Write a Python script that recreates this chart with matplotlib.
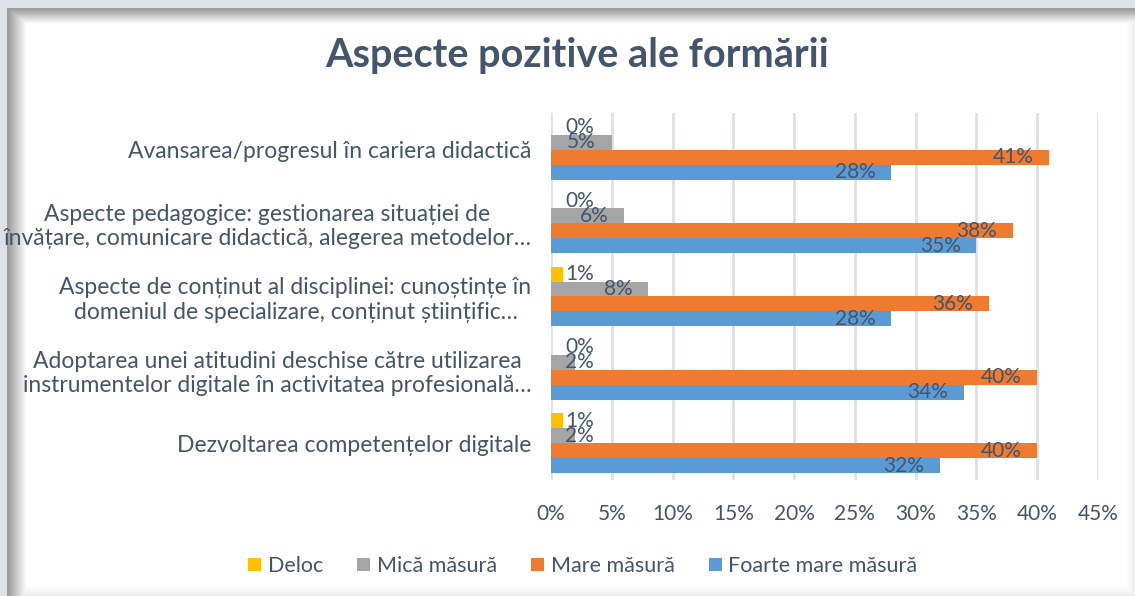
import numpy as np
import matplotlib
matplotlib.use('Agg')
import matplotlib.pyplot as plt
from matplotlib.ticker import FuncFormatter

plt.rcParams['font.family'] = ['Lato', 'DejaVu Sans']

categories = [
    'Avansarea/progresul în cariera didactică',
    'Aspecte pedagogice: gestionarea situației de\nînvățare, comunicare didactică, alegerea metodelor…',
    'Aspecte de conținut al disciplinei: cunoștințe în\ndomeniul de specializare, conținut științific…',
    'Adoptarea unei atitudini deschise către utilizarea\ninstrumentelor digitale în activitatea profesională…',
    'Dezvoltarea competențelor digitale',
]
series_names = ['Deloc', 'Mică măsură', 'Mare măsură', 'Foarte mare măsură']
deloc = [0, 0, 1, 0, 1]
mica = [5, 6, 8, 2, 2]
mare = [41, 38, 36, 40, 40]
foarte_mare = [28, 35, 28, 34, 32]
colors = ['#FFC000', '#A5A5A5', '#EE7B30', '#5B9BD5']
text_col = '#44546A'

W, H = 1135, 596
fig = plt.figure(figsize=(W / 100, H / 100), dpi=100)

# frame with soft shadow
bg = np.ones((H, W, 3))
yy, xx = np.mgrid[0:H, 0:W]
shade = np.ones((H, W))
shade = np.minimum(shade, 0.62 + 0.38 * np.clip((xx - 8) / 18, 0, 1))
shade = np.minimum(shade, 0.62 + 0.38 * np.clip((yy - 9) / 14, 0, 1))
shade = np.minimum(shade, 0.93 + 0.07 * np.clip((W - 1 - xx) / 8, 0, 1))
shade = np.minimum(shade, 0.93 + 0.07 * np.clip((H - 1 - yy) / 10, 0, 1))
bg *= shade[..., None]
band = np.array([0.87, 0.89, 0.91])
bg[:8, :, :] = band
bg[:, :7, :] = band
bax = fig.add_axes([0, 0, 1, 1], zorder=-10)
bax.imshow(bg, aspect='auto', extent=[0, 1, 0, 1])
bax.axis('off')

ax = fig.add_axes([551 / W, 1 - 480 / H, (1098 - 551) / W, (480 - 113) / H])
ax.set_facecolor('none')

data = [deloc, mica, mare, foarte_mare]
h = 0.204
y = np.arange(len(categories))
for k, (vals, c, name) in enumerate(zip(data, colors, series_names)):
    pos = y + (k - 1.5) * h
    ax.barh(pos, vals, height=h, color=c, label=name, zorder=3)
    for p, v in zip(pos, vals):
        xr = max(v - 1.3, 3.55)
        ax.text(xr, p, f'{v}%', ha='right', va='center', fontsize=15,
                color=text_col, zorder=4)

ax.set_xlim(0, 45)
ax.set_ylim(len(categories) - 0.5, -0.5)
ax.set_xticks(np.arange(0, 46, 5))
ax.xaxis.set_major_formatter(FuncFormatter(lambda v, p: f'{v:.0f}%'))
ax.set_yticks(y)
ax.set_yticklabels(categories, fontsize=16.5, color=text_col,
                   multialignment='center', linespacing=1.2)
ax.tick_params(axis='y', length=0, pad=14)
ax.tick_params(axis='x', length=0, pad=17, labelsize=15, labelcolor=text_col)
ax.grid(axis='x', color='#DDE1E6', linewidth=2, zorder=0)
for s in ax.spines.values():
    s.set_visible(False)

fig.text(577 / W, 1 - 55 / H, 'Aspecte pozitive ale formării', ha='center',
         va='center', fontsize=28.5, fontweight='bold', color=text_col)

leg = fig.legend(loc='center', bbox_to_anchor=(583 / W, 1 - 566 / H), ncol=4,
                 frameon=False, fontsize=15.5, handlelength=0.6, handleheight=0.6,
                 handletextpad=0.3, columnspacing=1.6, labelcolor=text_col)

fig.savefig('out.png', dpi=100)
